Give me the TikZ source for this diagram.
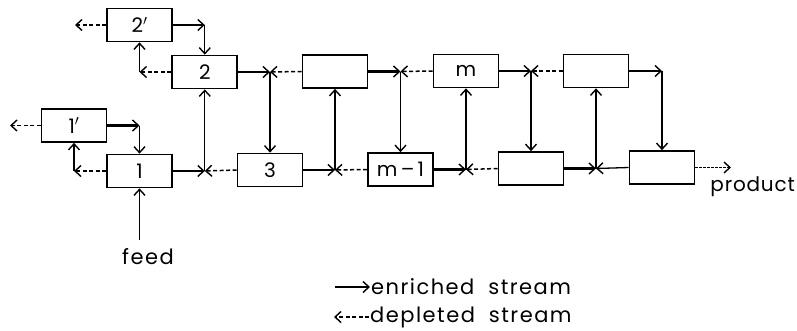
\documentclass[tikz,border=0pt]{standalone}
\usepackage{fontspec}
\setmainfont{Poppins}
\usetikzlibrary{arrows.meta}
\begin{document}
\begin{tikzpicture}[x=1pt,y=-1pt,
  box/.style={draw,line width=1.7pt,minimum width=65pt,minimum height=33pt,inner sep=0pt,font=\fontsize{20}{21}\selectfont},
  tip/.style={-{Straight Barb[length=6pt,width=11pt,line width=1.4pt]}},
  enr/.style={tip,line width=2.2pt},
  dep/.style={tip,line width=1.5pt,dash pattern=on 4pt off 2.5pt},
  vert/.style={tip,line width=1.3pt},
  lbl/.style={font=\fontsize{21}{22}\selectfont\addfontfeature{LetterSpace=7},inner sep=0pt}]
\useasboundingbox (0,0) rectangle (797,330);
% boxes
\node[box] (p2) at (139.5,25) {2$'$};
\node[box] (b2) at (204.8,72) {2};
\node[box] (p1) at (74,125.5) {1$'$};
\node[box] (b1) at (139.5,171) {1};
\node[box] (b3) at (270,170) {3};
\node[box] (t4) at (335,71.5) {};
\node[box] (bm1) at (400.5,169.5) {m\,--\,1};
\node[box] (tm) at (466,71) {m};
\node[box] (b5) at (531,168.5) {};
\node[box] (t6) at (596,71) {};
\node[box] (b7) at (662,167.5) {};
% corners and junctions
\coordinate (c2r) at (b2.center |- p2.center);
\coordinate (c2l) at (p2.center |- b2.center);
\coordinate (c1r) at (b1.center |- p1.center);
\coordinate (c1l) at (p1.center |- b1.center);
\coordinate (j1) at (b2.center |- b1.center);
\coordinate (j2) at (b3.center |- b2.center);
\coordinate (j3) at (t4.center |- b3.center);
\coordinate (j4) at (bm1.center |- t4.center);
\coordinate (j5) at (tm.center |- bm1.center);
\coordinate (j6) at (b5.center |- tm.center);
\coordinate (j7) at (t6.center |- b5.center);
\coordinate (j8) at (b7.center |- t6.center);
\coordinate (o2) at (75,25);
\coordinate (o1) at (10,125.5);
\coordinate (prod) at (731,167.5);
\coordinate (feedend) at (139.5,240);
% stage 2' and 1'
\draw[dep] (p2.west) -- (o2);
\draw[enr] (p2.east) -- (c2r);
\draw[vert] (c2r) -- (b2.north);
\draw[dep] (b2.west) -- (c2l);
\draw[vert] (c2l) -- (p2.south);
\draw[dep] (p1.west) -- (o1);
\draw[enr] (p1.east) -- (c1r);
\draw[vert] (c1r) -- (b1.north);
\draw[dep] (b1.west) -- (c1l);
\draw[vert] (c1l) -- (p1.south);
% junctions
\draw[enr] (b1.east) -- (j1);
\draw[dep] (b3.west) -- (j1);
\draw[vert] (j1) -- (b2.south);
\draw[enr] (b2.east) -- (j2);
\draw[dep] (t4.west) -- (j2);
\draw[vert] (j2) -- (b3.north);
\draw[enr] (b3.east) -- (j3);
\draw[dep] (bm1.west) -- (j3);
\draw[vert] (j3) -- (t4.south);
\draw[enr] (t4.east) -- (j4);
\draw[dep] (tm.west) -- (j4);
\draw[vert] (j4) -- (bm1.north);
\draw[enr] (bm1.east) -- (j5);
\draw[dep] (b5.west) -- (j5);
\draw[vert] (j5) -- (tm.south);
\draw[enr] (tm.east) -- (j6);
\draw[dep] (t6.west) -- (j6);
\draw[vert] (j6) -- (b5.north);
\draw[enr] (b5.east) -- (j7);
\draw[vert] (b7.west) -- (j7);
\draw[vert] (j7) -- (t6.south);
\draw[enr] (t6.east) -- (j8);
\draw[vert] (j8) -- (b7.north);
\draw[tip,line width=1.3pt,dash pattern=on 3pt off 1pt] (b7.east) -- (prod);
\node[font=\fontsize{20}{21}\selectfont\addfontfeature{LetterSpace=4},inner sep=0pt,anchor=east] (prodlbl) at (795,187) {product};
% feed
\draw[vert] (feedend) -- (b1.south);
\node[lbl] (feed) at (148,257) {feed};
% legend
\coordinate (l1a) at (335,287);
\coordinate (l1b) at (370,287);
\coordinate (l2a) at (369,317);
\coordinate (l2b) at (334,317);
\draw[enr] (l1a) -- (l1b);
\draw[dep] (l2a) -- (l2b);
\node[lbl,anchor=west] (leg1) at (371,287) {enriched\hspace{14pt}stream};
\node[lbl,anchor=west] (leg2) at (370,317) {depleted\hspace{14pt}stream};
\end{tikzpicture}
\end{document}
